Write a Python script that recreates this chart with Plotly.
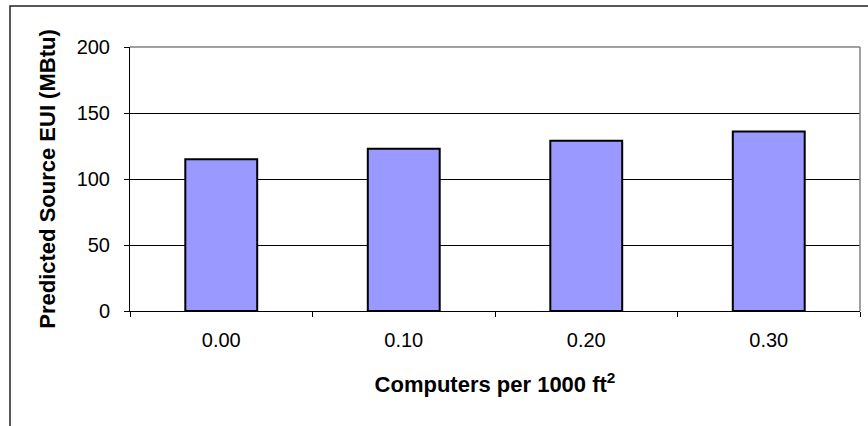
import plotly.graph_objects as go

categories = ["0.00", "0.10", "0.20", "0.30"]
values = [115, 123, 129, 136]
y_ticks = [0, 50, 100, 150, 200]
x_title = "<b>Computers per 1000 ft<sup>2</sup></b>"
y_title = "<b>Predicted Source EUI (MBtu)</b>"

W, H = 868, 426
L, R, T, B = 130, 8, 47, 115
pw = W - L - R
ph = H - T - B

fig = go.Figure(go.Bar(
    x=categories, y=values,
    marker=dict(color="#9999FF", line=dict(color="black", width=2)),
    width=0.394,
))

font = "Arial, Liberation Sans, sans-serif"

fig.update_layout(
    width=W, height=H,
    margin=dict(l=L, r=R, t=T, b=B),
    plot_bgcolor="white", paper_bgcolor="white",
    showlegend=False,
    font=dict(family=font, color="black"),
    xaxis=dict(
        type="category", range=[-0.5, 3.5],
        showline=True, linecolor="black", linewidth=1,
        ticks="outside", ticklen=5, tickcolor="black", tickson="boundaries",
        tickfont=dict(size=20, family=font, color="black"),
        ticklabelstandoff=11,
        title=dict(text=x_title, font=dict(size=22, family=font, color="black"), standoff=26),
        showgrid=False,
    ),
    yaxis=dict(
        range=[0, 200], tickvals=y_ticks,
        showline=True, linecolor="black", linewidth=1,
        ticks="outside", ticklen=5, tickcolor="black",
        showgrid=True, gridcolor="black", gridwidth=1,
        zeroline=False,
        tickfont=dict(size=20, family=font, color="black"),
        ticklabelstandoff=10,
        title=dict(text=y_title, font=dict(size=22, family=font, color="black"), standoff=14),
    ),
    shapes=[
        dict(type="line", xref="paper", yref="paper", x0=0, x1=1, y0=1, y1=1,
             line=dict(color="#808080", width=1.5), layer="above"),
        dict(type="line", xref="paper", yref="paper", x0=1, x1=1, y0=0, y1=1,
             line=dict(color="#808080", width=1.5), layer="above"),
        dict(type="rect", xref="paper", yref="paper",
             x0=(10 - L) / pw, x1=(W + 10 - L) / pw,
             y0=(T + ph - (H + 10)) / ph, y1=(T + ph - 6) / ph,
             line=dict(color="#222222", width=1.5), fillcolor="rgba(0,0,0,0)", layer="above"),
    ],
)

fig.write_html(
    "out.html",
    config={"displayModeBar": False},
    post_script="document.body.style.margin='0';document.body.style.overflow='hidden';",
)
